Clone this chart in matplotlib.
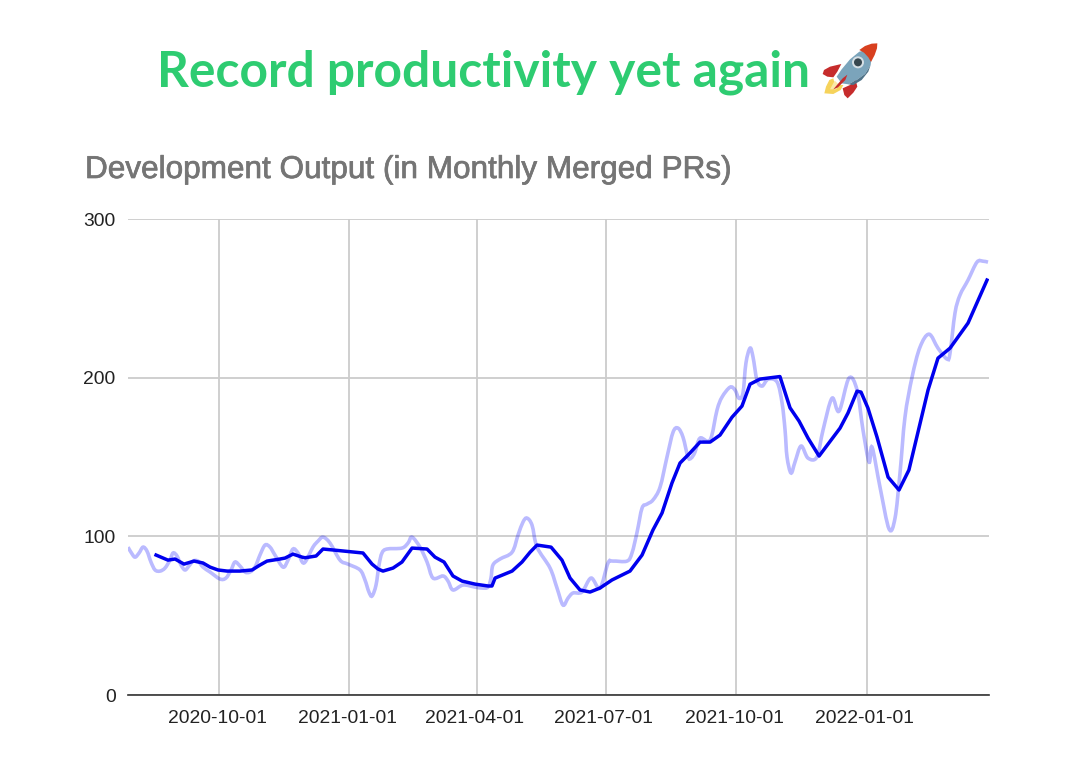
import numpy as np
import pandas as pd
from matplotlib import pyplot as plt
from matplotlib.patches import Circle, PathPatch, Polygon
from matplotlib.path import Path
from matplotlib.transforms import ScaledTranslation
import matplotlib.dates as mdates
import matplotlib.patheffects as pe

# Weekly merged PRs, as days since the start of the axis
weekly_days = [
    0, 2.1, 4.9, 7.8, 10.6, 13.4, 16.2, 19.1, 22.6, 26.1, 29.6, 31.8, 34.6, 37.4, 40.2, 43,
    45.9, 49.4, 52.9, 57.9, 64.9, 69.1, 72.7, 75.5, 79, 82.6, 86, 89.6, 93.1, 96.7, 100.2,
    103.7, 109.4, 112.9, 116.4, 120, 124.2, 130.5, 134.1, 137.6, 142.5, 149.6, 155.2, 163.7,
    167.2, 170, 172.2, 175, 177.1, 179.2, 182.7, 193.3, 197.6, 200.4, 206, 211, 215.2, 222.3,
    225.8, 229.3, 236.4, 244.8, 249.8, 254, 256.1, 257.5, 262.5, 271, 275.2, 278.7, 281.5,
    285.1, 288.6, 297.8, 302.7, 306.9, 310.5, 314, 320.3, 326.7, 333, 338.7, 342.2, 352.1,
    355.6, 359.2, 362.7, 366.2, 370.4, 375.4, 380.3, 384.6, 388.1, 391.6, 395.1, 397.3, 400,
    403.6, 410.7, 415.6, 419.1, 424.8, 428.3, 431.1, 433.9, 436, 438.9, 441, 443.8, 447.4,
    451.6, 458, 461.5, 463.6, 465, 467.8, 470.6, 474.9, 479.8, 486.1, 490.4, 496.7, 501.7,
    508.7, 514.4, 518.6, 522.9, 525, 530.6, 537, 541.2, 544.7, 548.2, 553.2, 558.8, 565.2,
    571.5, 577.9, 580, 583.5, 587, 592.7, 599, 603.3, 606.8,
]
weekly_prs = [
    93.2, 90, 86.9, 89.5, 93.2, 90.7, 83.8, 78.8, 78.1, 80, 85, 89.5, 87.6, 81.9, 78.8, 81.3,
    84.4, 84.4, 80.6, 77.5, 73.1, 73.7, 78.8, 83.8, 81.3, 77.5, 77.5, 80.6, 88.2, 94.5, 93.2,
    88.2, 80.6, 85, 92, 89.5, 83.2, 93.2, 97, 99.5, 95.8, 85, 82.5, 78.8,
    72.5, 64.9, 62.4, 69.3, 81.9, 89.5, 92, 92.6, 95.8, 99.5, 93.2, 83.8, 73.7, 75,
    71.8, 66.2, 69.3, 68, 67.4, 68, 73.7, 81.9, 85.7, 90, 100.8, 109, 111.5,
    107, 93.2, 80, 67.4, 56.7, 61.1, 64.3, 64.9, 73.7, 67.4, 83.2, 84.4, 84.4,
    89.5, 102.7, 117.8, 120.3, 122.9, 131, 150, 165.7, 168.2, 162.5, 150, 149.3, 153,
    161.9, 160.7, 179.6, 187.7, 194, 192.2, 187, 190.3, 209.2, 218.6, 213, 198.5, 194.7,
    199, 197.2, 184, 167, 150, 139.9, 146.8, 156.9, 149.3, 150, 167, 187, 178.9,
    199.7, 192.2, 167, 146.8, 156.2, 131, 104.6, 111.5, 139.9, 175, 200.3, 219.2, 227.4,
    218.6, 211.7, 215.5, 240.7, 252, 261.5, 272.8, 273.4, 272.8,
]

# Monthly average
monthly_days = [
    19.8, 24, 28.2, 33.2, 39.5, 46.6, 52.9, 57.9, 63.5, 69.9, 79, 87.5, 93.1, 98.1, 107.2,
    110.8, 116.4, 122.8, 124.9, 132.7, 137.6, 144.6, 165.8, 172.2, 176.4, 179.9, 187, 193.3,
    200.4, 211, 216.6, 223, 229.3, 235.7, 244.8, 254, 256.8, 259, 271, 278, 283.7, 288.6,
    298.5, 306.2, 311.9, 318.9, 326, 333, 341.5, 354.2, 362.7, 370.4, 376.8, 383.8, 389.5,
    396.5, 403.6, 410.7, 417.7, 426.2, 433.2, 438.9, 445.9, 460, 467.1, 473.5, 479.8, 487.6,
    502.4, 508, 514.4, 517.2, 522.1, 528.5, 536.3, 544, 551, 564.5, 571.5, 580, 592.7, 606.1,
]
monthly_prs = [
    88.2, 86.6, 85, 85.7, 82.5, 84.4, 83.2, 80.6, 78.8, 78.1, 78.1, 78.8, 81.9, 84.4, 85.7,
    86.3, 88.8, 86.9, 86.5, 87.6, 92, 91.4, 89.5, 82.5, 79.4, 78.1, 80, 83.8,
    92.6, 92, 86.9, 83.8, 75, 71.8, 69.9, 68.7, 68.7, 73.7, 78.1, 83.8, 90, 94.5,
    93.2, 85, 73.7, 66.2, 64.9, 67.4, 72.5, 78.1, 88.2, 104, 114.7, 133.6, 146.2,
    152.5, 159.4, 159.4, 163.8, 175.1, 182.1, 195.9, 199.1, 200.7, 181, 172.6, 161.9, 150.6,
    168.2, 177.7, 191.5, 190.9, 180.8, 162.5, 137.3, 129.2, 141.8, 192.2, 212.3, 218.6, 234.4, 261.5,
]

tick_dates = ["2020-10-01", "2021-01-01", "2021-04-01", "2021-07-01", "2021-10-01", "2022-01-01"]
y_ticks = [0, 100, 200, 300]

start = pd.Timestamp("2020-07-28 19:00")
end = start + pd.Timedelta(days=607.5)


# Curve through the points, so the weekly line bends instead of kinking
def smooth_path(x, y):
    pts = np.column_stack((x, y))
    tangents = np.gradient(pts, axis=0)
    verts = [pts[0]]
    for i in range(len(pts) - 1):
        verts += [pts[i] + tangents[i] / 3, pts[i + 1] - tangents[i + 1] / 3, pts[i + 1]]
    codes = [Path.MOVETO] + [Path.CURVE4] * (len(verts) - 1)
    return Path(verts, codes)


W, H = 1066, 766
fig = plt.figure(figsize=(W / 100, H / 100), dpi=100, facecolor="white")
ax = fig.add_axes([128 / W, 1 - 695 / H, (989 - 128) / W, (695 - 219) / H])

weekly_x = start + pd.to_timedelta(weekly_days, unit="D")
monthly_x = start + pd.to_timedelta(monthly_days, unit="D")
weekly_path = smooth_path(mdates.date2num(weekly_x), np.array(weekly_prs))
ax.add_patch(PathPatch(weekly_path, facecolor="none", edgecolor="#0000ff", alpha=0.27, lw=2.6, zorder=3))
ax.plot(monthly_x, monthly_prs, color="#0000ee", lw=2.5, solid_joinstyle="round", zorder=4)

ax.set_xlim(start, end)
ax.set_ylim(0, 300)
ax.set_yticks(y_ticks)
ax.set_xticks(pd.to_datetime(tick_dates))
ax.xaxis.set_major_formatter(mdates.DateFormatter("%Y-%m-%d"))
ax.grid(True, color="#cccccc", lw=1.3)
ax.set_axisbelow(True)
ax.tick_params(length=0, labelsize=13.9, labelcolor="#222222", pad=9)
ax.tick_params(axis="x", pad=11)
shift_left = ScaledTranslation(-2 / 100, 0, fig.dpi_scale_trans)
for lab in ax.get_xticklabels():
    lab.set_fontfamily("Liberation Sans")
    lab.set_transform(lab.get_transform() + shift_left)
for lab in ax.get_yticklabels():
    lab.set_fontfamily("Liberation Sans")
for side in ["top", "left", "right"]:
    ax.spines[side].set_visible(False)
ax.spines["bottom"].set_color("#333333")
ax.spines["bottom"].set_linewidth(1.2)

fig.text(85 / W, 1 - 170 / H, "Development Output (in Monthly Merged PRs)", family="Liberation Sans",
         fontsize=22.7, color="#757575", va="center", ha="left",
         path_effects=[pe.withStroke(linewidth=0.5, foreground="#757575")])
fig.text(157 / W, 1 - 72 / H, "Record productivity yet again", family="Lato", weight="bold",
         fontsize=35.8, color="#2ecc71", va="center", ha="left")

# Rocket next to the heading, in its own little axes (300 x 240 units)
rocket = fig.add_axes([800 / W, 1 - 110 / H, 100 / W, 80 / H])
rocket.set_xlim(0, 300)
rocket.set_ylim(240, 0)
rocket.axis("off")
shapes = [
    ([(73, 190), (78, 170), (88, 150), (100, 145), (105, 165), (130, 165), (122, 180), (100, 192)], "#f6d35b"),
    ([(90, 178), (104, 152), (118, 165), (108, 178)], "#fbe9a8"),
    ([(68, 132), (72, 120), (90, 110), (124, 102), (112, 125), (100, 142), (82, 140)], "#c62c2c"),
    ([(128, 175), (150, 165), (167, 150), (172, 170), (160, 188), (143, 205), (133, 195)], "#c62c2c"),
    ([(110, 140), (125, 118), (150, 88), (178, 65), (200, 60), (215, 80), (212, 105), (195, 132),
      (170, 150), (145, 163), (125, 160)], "#7ba4bb"),
    ([(145, 163), (170, 150), (195, 132), (212, 105), (205, 125), (185, 150), (160, 165)], "#4f7389"),
    ([(178, 60), (195, 48), (215, 41), (232, 40), (231, 55), (224, 75), (213, 96), (205, 82), (192, 68)], "#d8401f"),
    ([(100, 178), (128, 145), (142, 134), (136, 150), (114, 172)], "#c62c2c"),
]
for pts, col in shapes:
    rocket.add_patch(Polygon(pts, closed=True, facecolor=col, edgecolor="none"))
rocket.add_patch(Circle((174, 97), 18, facecolor="#d5dfe5", edgecolor="none"))
rocket.add_patch(Circle((174, 97), 12, facecolor="#37474f", edgecolor="none"))

fig.savefig("out.png", dpi=100)
